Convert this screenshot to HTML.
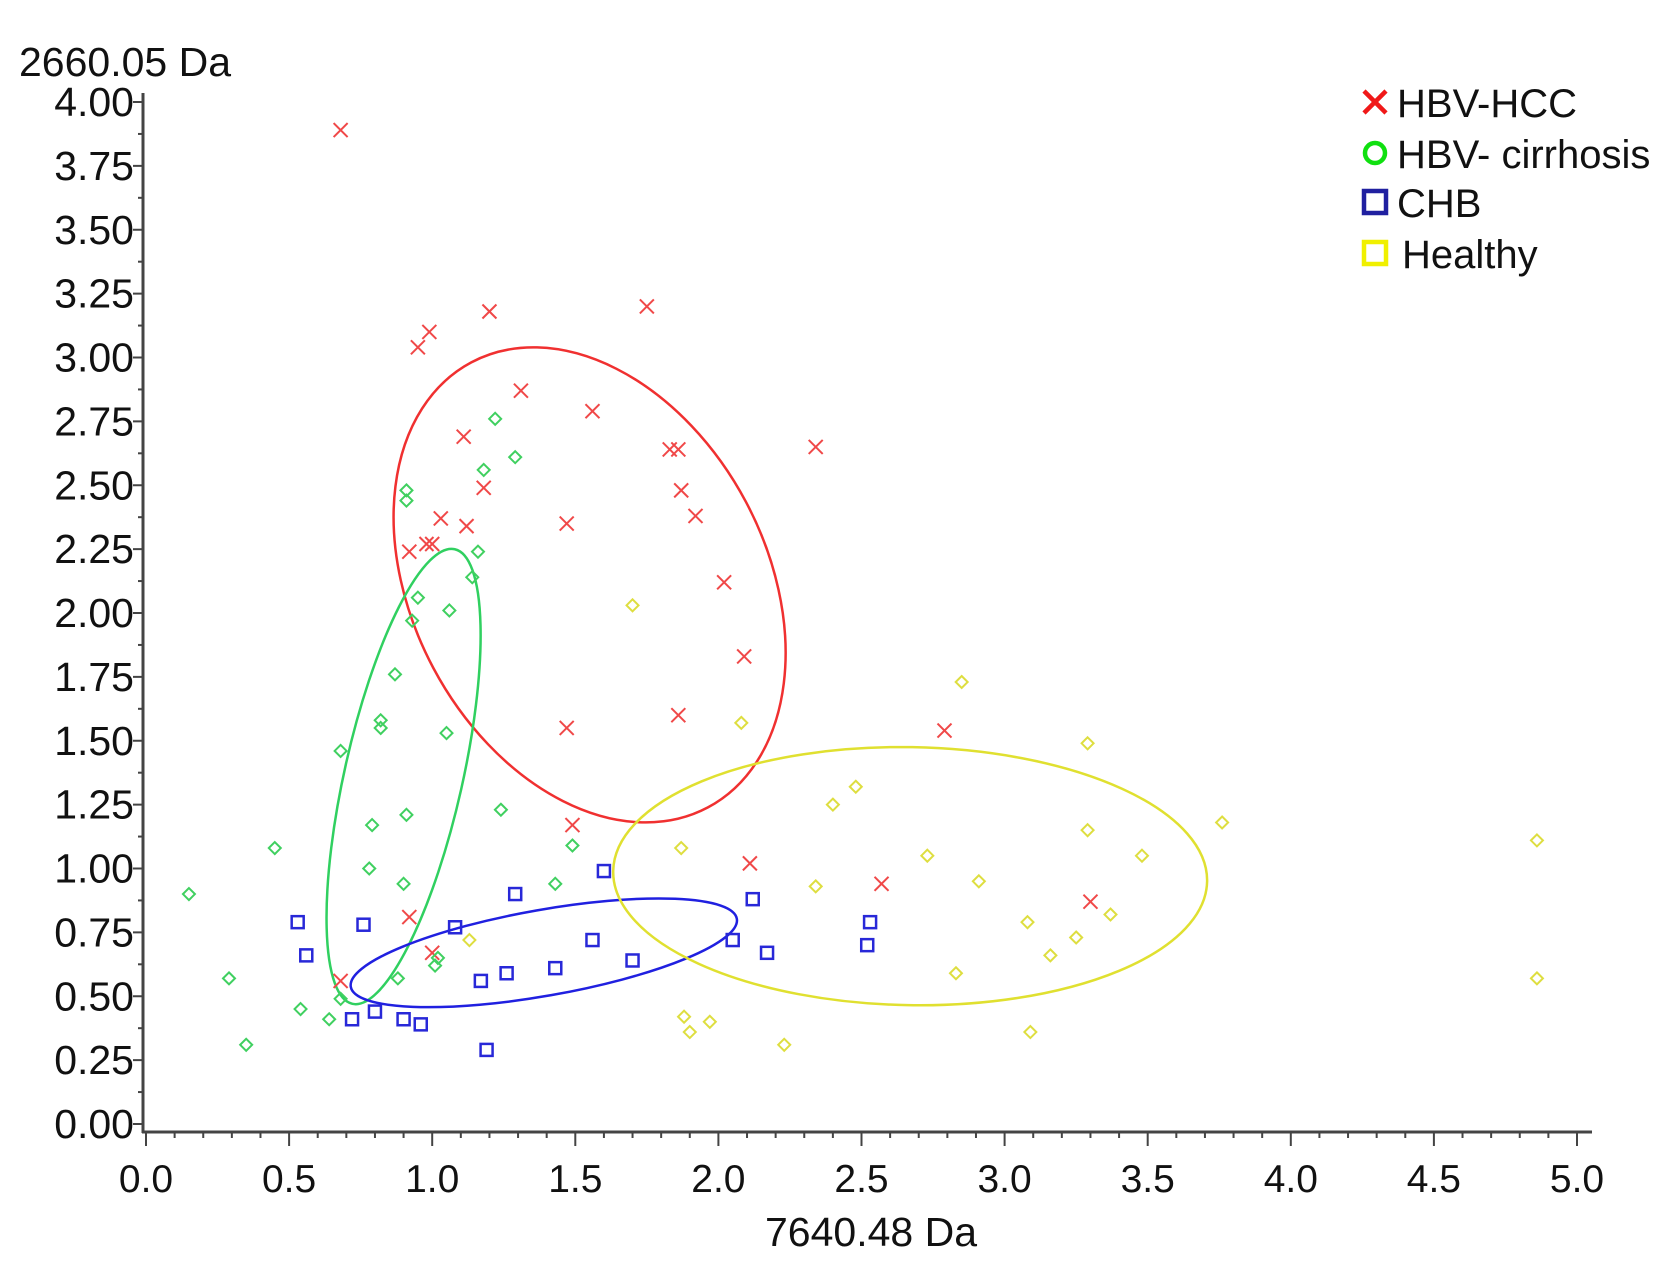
<!DOCTYPE html>
<html><head><meta charset="utf-8"><style>
body{margin:0;background:#fff;}
svg{display:block;font-family:"Liberation Sans",Arial,sans-serif;}
</style></head><body>
<svg id="chart" width="1677" height="1263" viewBox="0 0 1677 1263" xmlns="http://www.w3.org/2000/svg">
<g id="axes"></g>
<g id="ellipses"></g>
<g id="points"></g>
<g id="legend"></g>
<text x="19" y="76" font-size="41" fill="#111">2660.05 Da</text>
<text x="871" y="1246" font-size="41" fill="#111" text-anchor="middle">7640.48 Da</text>
</svg>
<script>
const xTicks=["0.0","0.5","1.0","1.5","2.0","2.5","3.0","3.5","4.0","4.5","5.0"];
const yTicks=["0.00","0.25","0.50","0.75","1.00","1.25","1.50","1.75","2.00","2.25","2.50","2.75","3.00","3.25","3.50","3.75","4.00"];
const hccX=[0.68,1.20,1.75,0.99,0.95,1.31,1.56,1.11,1.83,1.86,2.34,1.18,1.87,1.92,1.03,1.12,1.47,1.00,0.98,0.92,2.02,2.09,1.86,1.47,2.79,1.49,2.11,2.57,3.30,0.92,1.00,0.68];
const hccY=[3.89,3.18,3.20,3.10,3.04,2.87,2.79,2.69,2.64,2.64,2.65,2.49,2.48,2.38,2.37,2.34,2.35,2.27,2.27,2.24,2.12,1.83,1.60,1.55,1.54,1.17,1.02,0.94,0.87,0.81,0.67,0.56];
const cirX=[1.22,1.29,1.18,0.91,0.91,1.16,1.14,0.95,1.06,0.93,0.87,0.82,0.82,1.05,0.68,1.24,0.91,0.79,0.45,1.49,0.78,1.43,0.90,0.15,1.02,1.01,0.29,0.88,0.68,0.54,0.64,0.35];
const cirY=[2.76,2.61,2.56,2.48,2.44,2.24,2.14,2.06,2.01,1.97,1.76,1.58,1.55,1.53,1.46,1.23,1.21,1.17,1.08,1.09,1.00,0.94,0.94,0.90,0.65,0.62,0.57,0.57,0.49,0.45,0.41,0.31];
const chbX=[1.60,1.29,2.12,0.53,0.76,2.53,1.08,1.56,2.05,2.52,0.56,2.17,1.70,1.43,1.26,1.17,0.80,0.72,0.90,0.96,1.19];
const chbY=[0.99,0.90,0.88,0.79,0.78,0.79,0.77,0.72,0.72,0.70,0.66,0.67,0.64,0.61,0.59,0.56,0.44,0.41,0.41,0.39,0.29];
const hltX=[1.70,2.85,2.08,3.29,2.48,2.40,3.76,3.29,4.86,1.87,2.73,3.48,2.91,2.34,3.37,3.08,3.25,1.13,3.16,2.83,4.86,1.88,1.97,1.90,3.09,2.23];
const hltY=[2.03,1.73,1.57,1.49,1.32,1.25,1.18,1.15,1.11,1.08,1.05,1.05,0.95,0.93,0.82,0.79,0.73,0.72,0.66,0.59,0.57,0.42,0.40,0.36,0.36,0.31];
// ellipse centers (data) ; semi-axes (px) and rotation (deg)
const ellCX=[1.55,0.90,1.39,2.67];
const ellCY=[2.11,1.36,0.67,0.97];
const ellRA=[252,233,196,297];
const ellRB=[177,59,43,129];
const ellRot=[62,102.7,-10,1];
const ellNames=["ellipse-hbv-hcc","ellipse-hbv-cirrhosis","ellipse-chb","ellipse-healthy"];
const ellColors=["#f03030","#30d060","#2020e0","#e0e030"];

const X0=146,XS=286.2,Y0=1124,YS=255.5;
function sx(v){return X0+v*XS;}
function sy(v){return Y0-v*YS;}
const NS="http://www.w3.org/2000/svg";
function mk(tag,attrs,parent){const e=document.createElementNS(NS,tag);for(const k in attrs)e.setAttribute(k,attrs[k]);parent.appendChild(e);return e;}

const axes=document.getElementById('axes');
let a=mk('line',{x1:143,y1:93,x2:143,y2:1133,stroke:'#444','stroke-width':3},axes);


a=mk('line',{x1:142,y1:1132,x2:1592,y2:1132,stroke:'#444','stroke-width':3},axes);


for(let i=0;i<=50;i++){const x=sx(i*0.1);mk('line',{x1:x,y1:1132,x2:x,y2:(i%5==0)?1146:1138,stroke:'#444','stroke-width':2},axes);}
for(let i=0;i<=32;i++){const y=sy(i*0.125);mk('line',{x1:143,y1:y,x2:(i%2==0)?133:138,y2:y,stroke:'#444','stroke-width':2},axes);}
xTicks.forEach((t,i)=>{const e=mk('text',{x:sx(parseFloat(t)),y:1192,'font-size':39,'text-anchor':'middle',fill:'#111'},axes);e.textContent=t;

});
yTicks.forEach((t,i)=>{const e=mk('text',{x:134,y:sy(parseFloat(t))+14,'font-size':41,'text-anchor':'end',fill:'#111'},axes);e.textContent=t;

});

const eg=document.getElementById('ellipses');
ellCX.forEach((c,i)=>{const cx=sx(c),cy=sy(ellCY[i]);
const e=mk('ellipse',{cx:cx,cy:cy,rx:ellRA[i],ry:ellRB[i],fill:'none',stroke:ellColors[i],'stroke-width':2.5,transform:`rotate(${ellRot[i]} ${cx} ${cy})`},eg);

});

const pg=document.getElementById('points');
function cross(x,y,col,parent){const g=mk('g',{stroke:col,'stroke-width':2},parent);mk('line',{x1:x-7,y1:y-7,x2:x+7,y2:y+7},g);mk('line',{x1:x-7,y1:y+7,x2:x+7,y2:y-7},g);return g;}
function diamond(x,y,col,parent){return mk('path',{d:`M${x} ${y-6}L${x+6} ${y}L${x} ${y+6}L${x-6} ${y}Z`,fill:'none',stroke:col,'stroke-width':2},parent);}
function square(x,y,col,parent){return mk('rect',{x:x-6,y:y-6,width:12,height:12,fill:'none',stroke:col,'stroke-width':2.5},parent);}
hccX.forEach((v,i)=>{const e=cross(sx(v),sy(hccY[i]),'#f04848',pg);

});
cirX.forEach((v,i)=>{const e=diamond(sx(v),sy(cirY[i]),'#40d060',pg);

});
chbX.forEach((v,i)=>{const e=square(sx(v),sy(chbY[i]),'#2828d8',pg);

});
hltX.forEach((v,i)=>{const e=diamond(sx(v),sy(hltY[i]),'#dede40',pg);

});

const lg=document.getElementById('legend');
const labels=["HBV-HCC","HBV- cirrhosis","CHB","Healthy"];
const ly=[102,153,202,253];
const lx=[1401,1401,1401,1406];
labels.forEach((t,i)=>{const g=mk('g',{},lg);


const mx=1375,my=ly[i];
if(i==0){const c=mk('g',{stroke:'#f01818','stroke-width':4.5},g);mk('line',{x1:mx-11,y1:my-11,x2:mx+11,y2:my+11},c);mk('line',{x1:mx-11,y1:my+11,x2:mx+11,y2:my-11},c);}
else if(i==1){mk('circle',{cx:mx,cy:my,r:10,fill:'none',stroke:'#10e010','stroke-width':4.5},g);}
else {mk('rect',{x:mx-11,y:my-11,width:22,height:22,fill:'none',stroke:i==2?'#2020a0':'#f0f000','stroke-width':4.5},g);}
const e=mk('text',{x:lx[i]-4,y:my+15,'font-size':40,fill:'#111'},g);e.textContent=t;});
</script>
</body></html>
